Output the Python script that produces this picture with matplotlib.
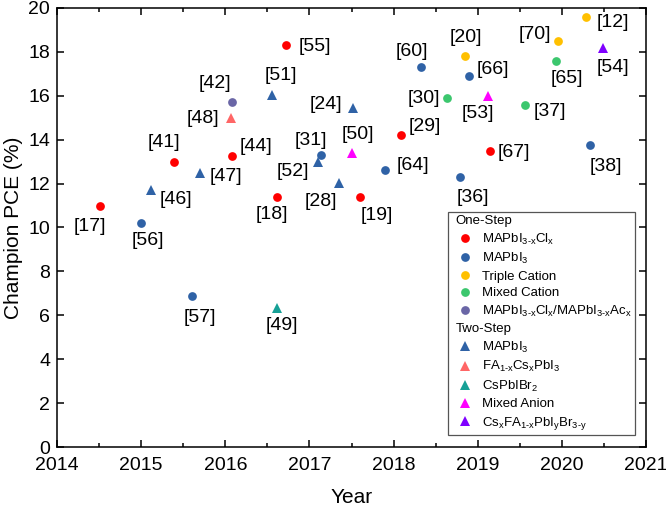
import matplotlib
matplotlib.use("Agg")
import matplotlib.pyplot as plt
from matplotlib.lines import Line2D

plt.rcParams['font.family'] = ['Liberation Sans', 'DejaVu Sans']
plt.rcParams['mathtext.fontset'] = 'custom'
plt.rcParams['mathtext.rm'] = 'Liberation Sans'
plt.rcParams['mathtext.it'] = 'Liberation Sans:italic'
plt.rcParams['mathtext.bf'] = 'Liberation Sans:bold'

# ---------------- data ----------------
# One-step MAPbI3-xClx
os_clx_year = [2014.51, 2015.39, 2016.08, 2016.72, 2016.61, 2017.60, 2018.09, 2019.15]
os_clx_pce = [11.0, 13.0, 13.27, 18.3, 11.4, 11.4, 14.2, 13.5]
os_clx_ref = ["[17]", "[41]", "[44]", "[55]", "[18]", "[19]", "[29]", "[67]"]

# One-step MAPbI3
os_mapbi_year = [2015.0, 2015.61, 2017.14, 2017.90, 2018.33, 2018.79, 2018.90, 2020.34]
os_mapbi_pce = [10.2, 6.9, 13.3, 12.6, 17.3, 12.3, 16.9, 13.75]
os_mapbi_ref = ["[56]", "[57]", "[31]", "[64]", "[60]", "[36]", "[66]", "[38]"]

# One-step Triple Cation
os_triple_year = [2018.85, 2019.96, 2020.29]
os_triple_pce = [17.8, 18.5, 19.6]
os_triple_ref = ["[20]", "[70]", "[12]"]

# One-step Mixed Cation
os_mixed_year = [2018.64, 2019.56, 2019.93]
os_mixed_pce = [15.9, 15.6, 17.6]
os_mixed_ref = ["[30]", "[37]", "[65]"]

# One-step MAPbI3-xClx / MAPbI3-xAcx
os_ac_year = [2016.08]
os_ac_pce = [15.7]
os_ac_ref = ["[42]"]

# Two-step MAPbI3
ts_mapbi_year = [2015.12, 2015.70, 2016.55, 2017.10, 2017.35, 2017.52]
ts_mapbi_pce = [11.7, 12.5, 16.05, 13.0, 12.05, 15.45]
ts_mapbi_ref = ["[46]", "[47]", "[51]", "[52]", "[28]", "[24]"]

# Two-step FA1-xCsxPbI3
ts_fa_year = [2016.07]
ts_fa_pce = [15.0]
ts_fa_ref = ["[48]"]

# Two-step CsPbIBr2
ts_cs_year = [2016.62]
ts_cs_pce = [6.35]
ts_cs_ref = ["[49]"]

# Two-step Mixed Anion
ts_anion_year = [2017.50, 2019.12]
ts_anion_pce = [13.4, 16.0]
ts_anion_ref = ["[50]", "[53]"]

# Two-step CsxFA1-xPbIyBr3-y
ts_csfa_year = [2020.49]
ts_csfa_pce = [18.2]
ts_csfa_ref = ["[54]"]

x_ticks = [2014, 2015, 2016, 2017, 2018, 2019, 2020, 2021]
y_ticks = [0, 2, 4, 6, 8, 10, 12, 14, 16, 18, 20]

# label offsets (pixels, dx right, dy down)
label_offsets = {
    "[17]": (-10, 21), "[56]": (7, 17), "[46]": (25, 9), "[41]": (-10, -19),
    "[47]": (26, 4), "[42]": (-17, -19), "[48]": (-28, 1), "[44]": (24, -9),
    "[51]": (9, -19), "[55]": (29, 1), "[18]": (-5, 18), "[31]": (-10, -15),
    "[52]": (-25, 10), "[28]": (-18, 19), "[24]": (-27, -3), "[50]": (6, -18),
    "[19]": (17, 19), "[64]": (28, -5), "[29]": (24, -9), "[60]": (-9, -16),
    "[30]": (-24, 1), "[36]": (13, 20), "[20]": (1, -19), "[66]": (24, -7),
    "[53]": (-10, 18), "[67]": (24, 2), "[37]": (25, 7), "[70]": (-24, -6),
    "[65]": (11, 18), "[12]": (27, 6), "[54]": (10, 20), "[38]": (15, 21),
    "[57]": (7, 22), "[49]": (4, 18),
}

BLUE = '#2F62A6'
series = [
    (os_clx_year, os_clx_pce, os_clx_ref, 'o', '#FF0000', r"MAPbI$_{\text{3-x}}$Cl$_{\text{x}}$"),
    (os_mapbi_year, os_mapbi_pce, os_mapbi_ref, 'o', BLUE, r"MAPbI$_{\text{3}}$"),
    (os_triple_year, os_triple_pce, os_triple_ref, 'o', '#FFC000', "Triple Cation"),
    (os_mixed_year, os_mixed_pce, os_mixed_ref, 'o', '#3CC76E', "Mixed Cation"),
    (os_ac_year, os_ac_pce, os_ac_ref, 'o', '#6A66A6',
     r"MAPbI$_{\text{3-x}}$Cl$_{\text{x}}$/MAPbI$_{\text{3-x}}$Ac$_{\text{x}}$"),
    (ts_mapbi_year, ts_mapbi_pce, ts_mapbi_ref, '^', BLUE, r"MAPbI$_{\text{3}}$"),
    (ts_fa_year, ts_fa_pce, ts_fa_ref, '^', '#FF6666', r"FA$_{\text{1-x}}$Cs$_{\text{x}}$PbI$_{\text{3}}$"),
    (ts_cs_year, ts_cs_pce, ts_cs_ref, '^', '#16A096', r"CsPbIBr$_{\text{2}}$"),
    (ts_anion_year, ts_anion_pce, ts_anion_ref, '^', '#FF00FF', "Mixed Anion"),
    (ts_csfa_year, ts_csfa_pce, ts_csfa_ref, '^', '#7F00FF',
     r"Cs$_{\text{x}}$FA$_{\text{1-x}}$PbI$_{\text{y}}$Br$_{\text{3-y}}$"),
]

fig = plt.figure(figsize=(6.66, 5.07), dpi=100)
ax = fig.add_axes([57 / 666, 1 - 447 / 507, 589 / 666, 439 / 507])

handles = []
for xs, ys, refs, mk, col, lab in series:
    ms = 6.3 if mk == 'o' else 7.8
    h, = ax.plot(xs, ys, linestyle='none', marker=mk, markersize=ms,
                 color=col, markeredgewidth=0, label=lab, zorder=3)
    handles.append(h)
    for x, y, r in zip(xs, ys, refs):
        dx, dy = label_offsets[r]
        ax.annotate(r, (x, y), xytext=(dx, -dy), textcoords='offset pixels',
                    ha='center', va='center', fontsize=14, color='black')

ax.set_xlim(2014, 2021)
ax.set_ylim(0, 20)
ax.set_xticks(x_ticks)
ax.set_xticks([t + 0.5 for t in x_ticks[:-1]], minor=True)
ax.set_yticks(y_ticks)
ax.tick_params(axis='both', which='both', direction='in', top=True, right=True,
               labelsize=14, width=1.1)
ax.tick_params(axis='both', which='major', length=5)
ax.tick_params(axis='y', which='major', pad=5)
ax.tick_params(axis='x', which='major', pad=7)
ax.tick_params(axis='x', which='minor', length=3)
for s in ax.spines.values():
    s.set_linewidth(1.1)

ax.set_xlabel("Year", fontsize=15, labelpad=10)
ax.set_ylabel("Champion PCE (%)", fontsize=15, labelpad=4)

hdr1 = Line2D([], [], linestyle='none', marker=None, label="One-Step")
hdr2 = Line2D([], [], linestyle='none', marker=None, label="Two-Step")
leg_handles = [hdr1] + handles[:5] + [hdr2] + handles[5:]
leg = ax.legend(handles=leg_handles, loc='upper right', bbox_to_anchor=(0.981, 0.536),
                borderaxespad=0, fontsize=9.5, frameon=True, fancybox=False,
                edgecolor='#555555', framealpha=1, numpoints=1,
                handlelength=2.0, handletextpad=0.3, borderpad=0.25, labelspacing=0.33)
leg.get_frame().set_linewidth(0.9)
for vp in leg._legend_handle_box.get_children():
    for hp in vp.get_children():
        da, ta = hp.get_children()
        if ta.get_text() in ("One-Step", "Two-Step"):
            da.width = 0

fig.savefig("out.png", dpi=100)
